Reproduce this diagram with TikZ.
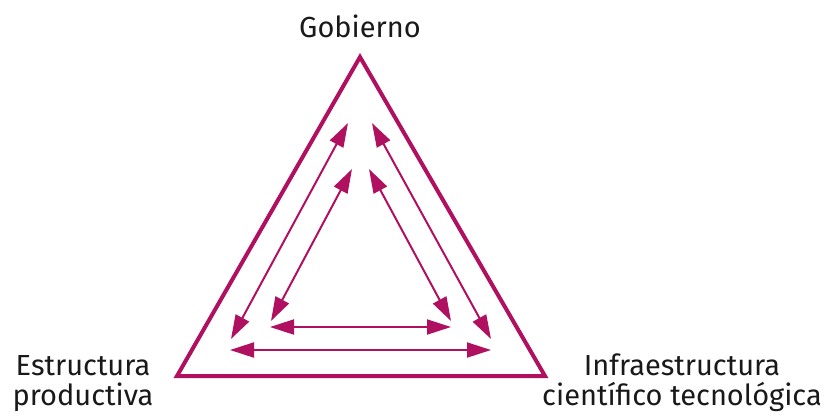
\documentclass[tikz,border=0pt]{standalone}
\usepackage{fontspec}
\setmainfont{Fira Sans}
\usetikzlibrary{arrows.meta}
\definecolor{mag}{RGB}{176,16,96}
\begin{document}
\begin{tikzpicture}[x=1pt,y=-1pt,
  lbl/.style={font=\fontsize{29}{29.5}\selectfont, align=center, inner sep=0pt, text=black!90},
  tri/.style={draw=mag, line width=4pt, line join=miter},
  dbl/.style={draw=mag, line width=2pt, {Triangle[length=24pt,width=15pt]}-{Triangle[length=24pt,width=15pt]}}]
\useasboundingbox (0,0) rectangle (825,416);
\coordinate (top) at (360,57);
\coordinate (bl) at (177,376);
\coordinate (br) at (545,376);
\draw[tri] (top) -- (bl) -- (br) -- cycle;
% outer arrows
\coordinate (oLt) at (348,123);
\coordinate (oLb) at (231,339);
\coordinate (oRt) at (372,123);
\coordinate (oRb) at (491,339);
\coordinate (oBl) at (230,350);
\coordinate (oBr) at (491,350);
% inner arrows
\coordinate (iLt) at (352,169);
\coordinate (iLb) at (271,321);
\coordinate (iRt) at (369,169);
\coordinate (iRb) at (451,321);
\coordinate (iBl) at (270,327);
\coordinate (iBr) at (451,327);
\draw[dbl] (oLt) -- (oLb);
\draw[dbl] (oRt) -- (oRb);
\draw[dbl] (oBl) -- (oBr);
\draw[dbl] (iLt) -- (iLb);
\draw[dbl] (iRt) -- (iRb);
\draw[dbl] (iBl) -- (iBr);
\node[lbl, anchor=base] (gob) at (360,37) {Gobierno};
\node[lbl, anchor=base] (est) at (83,405) {Estructura\\productiva};
\node[lbl, anchor=base] (inf) at (682,405) {Infraestructura\\científico tecnológica};
\end{tikzpicture}
\end{document}
